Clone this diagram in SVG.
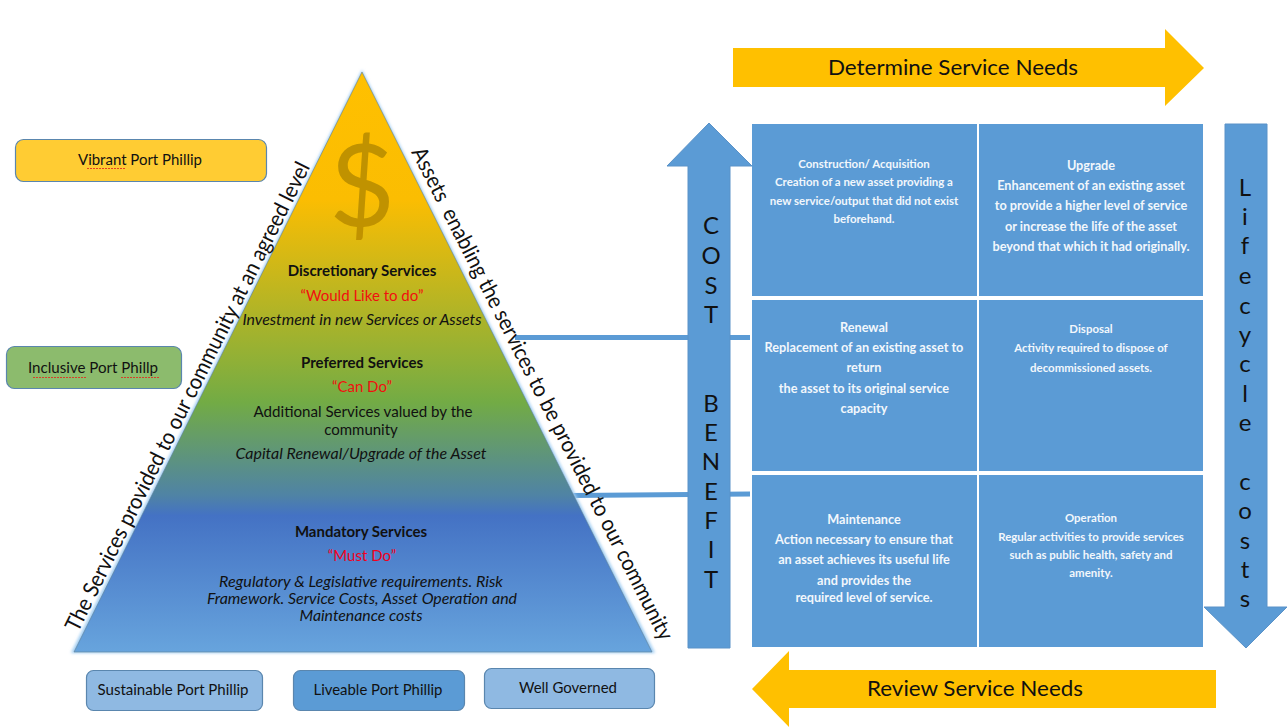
<svg xmlns="http://www.w3.org/2000/svg" width="1287" height="727" viewBox="0 0 1287 727">
<defs>
<linearGradient id="pyr" gradientUnits="userSpaceOnUse" x1="0" y1="72" x2="0" y2="652">
<stop offset="0" stop-color="#FFC000"/><stop offset="0.22" stop-color="#FBBD02"/><stop offset="0.5" stop-color="#8FB037"/><stop offset="0.57" stop-color="#72AB45"/><stop offset="0.73" stop-color="#4F83A5"/><stop offset="0.765" stop-color="#4472C4"/><stop offset="1" stop-color="#67A4DD"/>
</linearGradient>
<filter id="glow" x="-5%" y="-5%" width="110%" height="110%"><feGaussianBlur stdDeviation="1.8"/></filter>
</defs>
<style>
text{font-family:Lato,"Open Sans","Liberation Sans",sans-serif;fill:#111;text-anchor:middle}
.box{stroke:#5A86AE;stroke-width:1.2}
.lbl{font-size:15px}
.h{font-size:15px;font-weight:700}
.red{font-size:15px;fill:#F01010}
.it{font-size:15px;font-style:italic}
.n{font-size:15px}
.side{font-size:22px;text-anchor:start}
.v{font-size:24px}
.cell{fill:#5B9BD5}
.w{fill:#F2F7FC;font-weight:700}
.w11{font-size:11.450px}
.w12{font-size:12.700px}
.sq{fill:none;stroke:#E03020;stroke-width:.9;stroke-dasharray:2 1}
.link{stroke:#5B9BD5;stroke-width:5;fill:none}
.ya{fill:#FFC000}
.ba{fill:#5B9BD5;stroke:#5A92C8;stroke-width:1}
</style>
<g id="connectors">
<path class="link" d="M515 337.500H750"/>
<path class="link" d="M572 495.500L750 494"/>
</g>
<g id="pyramid">
<path d="M362 70L71 653H655Z" fill="#9CCBF2" filter="url(#glow)"/>
<path d="M362 72L74 652H652Z" fill="url(#pyr)" stroke="#5F7F95" stroke-width=".6"/>
<text x="362" y="226" style="font-size:114px;fill:#C09200">$</text>
<text class="h" x="362" y="276">Discretionary Services</text>
<text class="red" x="362" y="301">“Would Like to do”</text>
<text class="it" x="362" y="325" textLength="239" lengthAdjust="spacingAndGlyphs">Investment in new Services or Assets</text>
<text class="h" x="362" y="368">Preferred Services</text>
<text class="red" x="362" y="392">“Can Do”</text>
<text class="n" x="363" y="417" textLength="219" lengthAdjust="spacingAndGlyphs">Additional Services valued by the</text>
<text class="n" x="361" y="435">community</text>
<text class="it" x="361" y="459" textLength="251" lengthAdjust="spacingAndGlyphs">Capital Renewal/Upgrade of the Asset</text>
<text class="h" x="361" y="537">Mandatory Services</text>
<text class="red" x="362" y="561" style="fill:#F00020">“Must Do”</text>
<text class="it" x="361" y="587" textLength="284" lengthAdjust="spacingAndGlyphs">Regulatory &amp; Legislative requirements. Risk</text>
<text class="it" x="362" y="604" textLength="310" lengthAdjust="spacingAndGlyphs">Framework. Service Costs, Asset Operation and</text>
<text class="it" x="361" y="621" textLength="123" lengthAdjust="spacingAndGlyphs">Maintenance costs</text>
</g>
<g id="side-left"><text class="side" transform="translate(78 633) rotate(-63.500)" textLength="521" lengthAdjust="spacingAndGlyphs">The Services provided to our community at an agreed level</text></g>
<g id="side-right"><text class="side" xml:space="preserve" transform="translate(411 152) rotate(63)" textLength="550" lengthAdjust="spacingAndGlyphs">Assets  enabling the services to be provided to our community</text></g>
<g id="vibrant"><rect class="box" x="15.500" y="139.500" width="251" height="42" rx="8" fill="#FFCC33"/><text class="lbl" x="140" y="165" textLength="124" lengthAdjust="spacingAndGlyphs">Vibrant Port Phillip</text><path class="sq" d="M87 168.500H126"/></g>
<g id="inclusive"><rect class="box" x="6.500" y="346.500" width="175" height="42" rx="8" fill="#8CBB6D"/><text class="lbl" x="93" y="373" textLength="130" lengthAdjust="spacingAndGlyphs">Inclusive Port Phillp</text><path class="sq" d="M33 377.500H87M121 377.500H160"/></g>
<g id="sustainable"><rect class="box" x="86.500" y="670.500" width="176" height="40" rx="7" fill="#8FB9E2"/><text class="lbl" x="173" y="695" textLength="151" lengthAdjust="spacingAndGlyphs">Sustainable Port Phillip</text></g>
<g id="liveable"><rect class="box" x="293.500" y="670.500" width="171" height="40" rx="7" fill="#5B9BD5"/><text class="lbl" x="378" y="695" textLength="129" lengthAdjust="spacingAndGlyphs">Liveable Port Phillip</text></g>
<g id="well-governed"><rect class="box" x="484.500" y="668.500" width="170" height="40" rx="7" fill="#8FB9E2"/><text class="lbl" x="568" y="693" textLength="98" lengthAdjust="spacingAndGlyphs">Well Governed</text></g>
<g id="determine-arrow"><path class="ya" d="M733 48H1165V29L1204 68L1165 106V87H733Z"/><text x="953" y="75" style="font-size:22px" textLength="250" lengthAdjust="spacingAndGlyphs">Determine Service Needs</text></g>
<g id="review-arrow"><path class="ya" d="M1216 670H789V651L752 689L789 727V708H1216Z"/><text x="975" y="696" style="font-size:22px" textLength="216" lengthAdjust="spacingAndGlyphs">Review Service Needs</text></g>
<g id="cost-benefit"><path class="ba" d="M709 123L752 166H730V648H688V166H667Z"/>
<text class="v" x="711" y="234">C</text><text class="v" x="711" y="264">O</text><text class="v" x="711" y="294">S</text><text class="v" x="711" y="323">T</text>
<text class="v" x="711" y="412">B</text><text class="v" x="711" y="441">E</text><text class="v" x="711" y="470">N</text><text class="v" x="711" y="500">E</text><text class="v" x="711" y="529">F</text><text class="v" x="711" y="558">I</text><text class="v" x="711" y="588">T</text>
</g>
<g id="lifecycle"><path class="ba" d="M1225 124H1267V607H1287L1246 648L1204 607H1225Z"/>
<text class="v" x="1245" y="196">L</text><text class="v" x="1245" y="225">i</text><text class="v" x="1245" y="254">f</text><text class="v" x="1245" y="284">e</text><text class="v" x="1245" y="314">c</text><text class="v" x="1245" y="343">y</text><text class="v" x="1245" y="372">c</text><text class="v" x="1245" y="402">l</text><text class="v" x="1245" y="431">e</text><text class="v" x="1245" y="490">c</text><text class="v" x="1245" y="519">o</text><text class="v" x="1245" y="549">s</text><text class="v" x="1245" y="578">t</text><text class="v" x="1245" y="607">s</text>
</g>
<g id="construction"><rect class="cell" x="752" y="124" width="225" height="172"/><text class="w w11" x="864" y="168">Construction/ Acquisition</text><text class="w w11" x="864" y="186">Creation of a new asset providing a</text><text class="w w11" x="864" y="205">new service/output that did not exist</text><text class="w w11" x="864" y="223">beforehand.</text></g>
<g id="upgrade"><rect class="cell" x="979" y="124" width="224" height="172"/><text class="w w12" x="1091" y="170">Upgrade</text><text class="w w12" x="1091" y="190">Enhancement of an existing asset</text><text class="w w12" x="1091" y="210">to provide a higher level of service</text><text class="w w12" x="1091" y="231">or increase the life of the asset</text><text class="w w12" x="1091" y="251">beyond that which it had originally.</text></g>
<g id="renewal"><rect class="cell" x="752" y="300" width="225" height="171"/><text class="w w12" x="864" y="332">Renewal</text><text class="w w12" x="864" y="352">Replacement of an existing asset to</text><text class="w w12" x="864" y="372">return</text><text class="w w12" x="864" y="393">the asset to its original service</text><text class="w w12" x="864" y="413">capacity</text></g>
<g id="disposal"><rect class="cell" x="979" y="300" width="224" height="171"/><text class="w w11" x="1091" y="333">Disposal</text><text class="w w11" x="1091" y="352">Activity required to dispose of</text><text class="w w11" x="1091" y="372">decommissioned assets.</text></g>
<g id="maintenance"><rect class="cell" x="752" y="475" width="225" height="172"/><text class="w w12" x="864" y="524">Maintenance</text><text class="w w12" x="864" y="544">Action necessary to ensure that</text><text class="w w12" x="864" y="564">an asset achieves its useful life</text><text class="w w12" x="864" y="585">and provides the</text><text class="w w12" x="864" y="602">required level of service.</text></g>
<g id="operation"><rect class="cell" x="979" y="475" width="224" height="172"/><text class="w w11" x="1091" y="522">Operation</text><text class="w w11" x="1091" y="541">Regular activities to provide services</text><text class="w w11" x="1091" y="559">such as public health, safety and</text><text class="w w11" x="1091" y="577">amenity.</text></g>
</svg>
